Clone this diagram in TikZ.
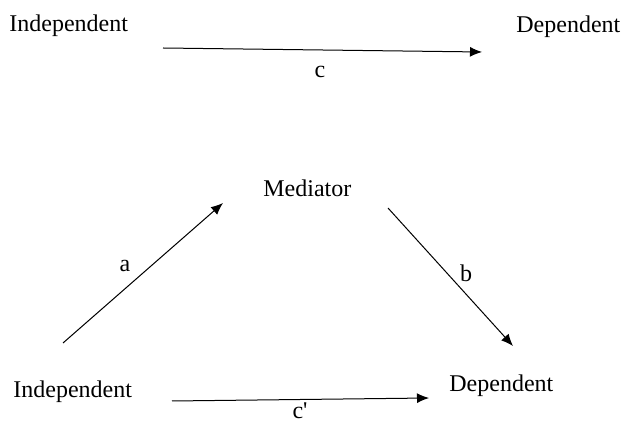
\documentclass[tikz,border=0pt]{standalone}
\usepackage{fontspec}
\setmainfont{Liberation Serif}
\usetikzlibrary{arrows.meta}
\tikzset{
  var/.style={inner sep=0pt,anchor=base west,font=\fontsize{12}{14}\selectfont},
  lab/.style={inner sep=0pt,anchor=base,font=\fontsize{12}{14}\selectfont},
  path/.style={line width=0.5pt,-{Latex[length=6pt,width=5pt]}}
}
\begin{document}
\begin{tikzpicture}[x=0.5pt,y=-0.5pt]
\useasboundingbox (0,0) rectangle (623,422);
% total effect
\node[var] (ind1) at (9,32) {Independent};
\node[var] (dep1) at (516,33) {Dependent};
\coordinate (c1s) at (163,48);
\coordinate (c1e) at (482,52);
\draw[path] (c1s) -- (c1e);
\node[lab] (labc) at (320,78) {c};
% mediation model
\node[var] (med) at (263,197) {Mediator};
\node[var] (ind2) at (13,398) {Independent};
\node[var] (dep2) at (449,392) {Dependent};
\coordinate (as) at (63,343);
\coordinate (ae) at (223,203);
\coordinate (bs) at (388,208);
\coordinate (be) at (513,346);
\coordinate (c2s) at (172,401);
\coordinate (c2e) at (429,398);
\draw[path] (as) -- (ae);
\draw[path] (bs) -- (be);
\draw[path] (c2s) -- (c2e);
\node[lab] (laba) at (125,272) {a};
\node[lab] (labb) at (466,282) {b};
\node[lab] (labcp) at (300,419) {c\textquotesingle};
\end{tikzpicture}
\end{document}
